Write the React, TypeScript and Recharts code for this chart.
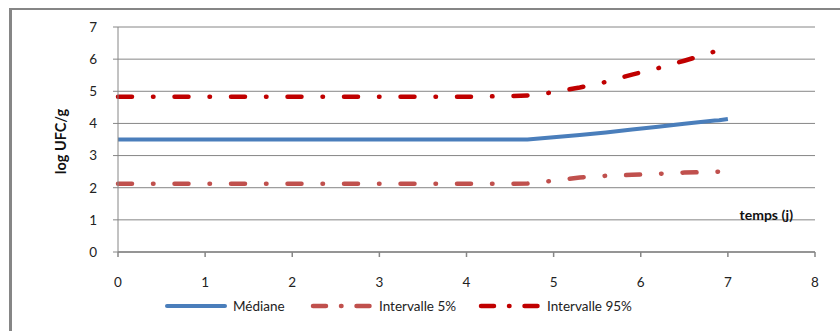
import { CartesianGrid, Label, Line, LineChart, XAxis, YAxis } from "recharts";

// sampling days (j)
const DAYS = [0, 1, 2, 3, 4, 4.5, 4.7, 5.0, 5.3, 5.6, 5.9, 6.2, 6.5, 6.85, 6.9, 7.0];
const MEDIANE = [3.5, 3.5, 3.5, 3.5, 3.5, 3.5, 3.5, 3.57, 3.64, 3.72, 3.81, 3.9, 3.99, 4.09, 4.1, 4.14];
const P5 = [2.12, 2.12, 2.12, 2.12, 2.12, 2.12, 2.13, 2.22, 2.32, 2.37, 2.4, 2.43, 2.47, 2.49, 2.5, null];
const P95 = [4.83, 4.83, 4.83, 4.83, 4.83, 4.85, 4.87, 4.97, 5.12, 5.29, 5.52, 5.72, 5.95, 6.24, null, null];

const X_TICKS = [0, 1, 2, 3, 4, 5, 6, 7, 8];
const Y_TICKS = [0, 1, 2, 3, 4, 5, 6, 7];

const FONT = "Lato, 'Liberation Sans', sans-serif";
const GRID = "#868686";
const BLUE = "#4A7EBB";
const RED_LIGHT = "#C0504D";
const RED_DARK = "#C00000";
const DASH_DOT = "14 21 0.5 21";

const data = DAYS.map((d, i) => ({
  day: d,
  mediane: MEDIANE[i],
  p5: P5[i],
  p95: P95[i],
}));

const LEGEND = [
  { label: "Médiane", color: BLUE, dash: undefined as string | undefined, left: 164 },
  { label: "Intervalle 5%", color: RED_LIGHT, dash: "13 15 0.5 15", left: 310 },
  { label: "Intervalle 95%", color: RED_DARK, dash: "13 15 0.5 15", left: 478 },
];

export default function App() {
  const tickStyle = { fontSize: 13.5, fill: "#222", fontFamily: FONT };
  return (
    <div
      style={{
        position: "absolute",
        left: 0,
        top: 0,
        width: 840,
        height: 331,
        background: "#fff",
        overflow: "hidden",
        fontFamily: FONT,
      }}
    >
      <div
        style={{
          position: "absolute",
          left: 9,
          top: 8,
          width: 850,
          height: 340,
          borderLeft: `3px solid ${GRID}`,
          borderTop: `2px solid ${GRID}`,
        }}
      />
      <LineChart
        width={840}
        height={331}
        data={data}
        margin={{ top: 27, right: 25, bottom: 0, left: 0 }}
        style={{ position: "absolute", left: 0, top: 0 }}
      >
        <CartesianGrid vertical={false} stroke={GRID} strokeWidth={1} />
        <XAxis
          dataKey="day"
          type="number"
          domain={[0, 8]}
          ticks={X_TICKS}
          interval={0}
          height={79}
          tickSize={5}
          tickMargin={20}
          stroke={GRID}
          strokeWidth={1.5}
          tick={tickStyle}
          label={
            <Label
              content={({ viewBox }: any) => (
                <text
                  x={viewBox.x + viewBox.width - 22}
                  y={viewBox.y - 32}
                  textAnchor="end"
                  fontWeight="bold"
                  fontSize={14}
                  fontFamily={FONT}
                  fill="#111"
                >
                  temps (j)
                </text>
              )}
            />
          }
        />
        <YAxis
          type="number"
          domain={[0, 7]}
          ticks={Y_TICKS}
          interval={0}
          width={118}
          tickSize={5}
          tickMargin={16}
          stroke={GRID}
          tick={tickStyle}
          label={
            <Label
              content={({ viewBox }: any) => {
                const cx = viewBox.x + 60;
                const cy = viewBox.y + viewBox.height / 2 + 2;
                return (
                  <text
                    x={cx}
                    y={cy}
                    transform={`rotate(-90 ${cx} ${cy})`}
                    textAnchor="middle"
                    dominantBaseline="central"
                    fontWeight="bold"
                    fontSize={14.5}
                    fontFamily={FONT}
                    fill="#111"
                  >
                    log UFC/g
                  </text>
                );
              }}
            />
          }
        />
        <Line
          type="linear"
          dataKey="p5"
          stroke={RED_LIGHT}
          strokeWidth={4.5}
          strokeDasharray={DASH_DOT}
          strokeLinecap="round"
          dot={false}
          activeDot={false}
          isAnimationActive={false}
          name="Intervalle 5%"
        />
        <Line
          type="linear"
          dataKey="p95"
          stroke={RED_DARK}
          strokeWidth={4.5}
          strokeDasharray={DASH_DOT}
          strokeLinecap="round"
          dot={false}
          activeDot={false}
          isAnimationActive={false}
          name="Intervalle 95%"
        />
        <Line
          type="linear"
          dataKey="mediane"
          stroke={BLUE}
          strokeWidth={4}
          dot={false}
          activeDot={false}
          isAnimationActive={false}
          name="Médiane"
        />
      </LineChart>
      {LEGEND.map((item) => (
        <div
          key={item.label}
          style={{
            position: "absolute",
            left: item.left,
            top: 296,
            height: 20,
            display: "flex",
            alignItems: "center",
            fontSize: 13.5,
            color: "#222",
            whiteSpace: "nowrap",
          }}
        >
          <svg width={64} height={20} style={{ display: "block" }}>
            <line
              x1={3}
              y1={10}
              x2={61}
              y2={10}
              stroke={item.color}
              strokeWidth={item.dash ? 4.5 : 4}
              strokeLinecap="round"
              strokeDasharray={item.dash}
            />
          </svg>
          <span style={{ marginLeft: 5 }}>{item.label}</span>
        </div>
      ))}
    </div>
  );
}
